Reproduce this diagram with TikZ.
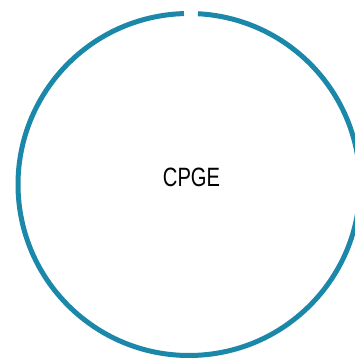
\documentclass[tikz,border=0pt]{standalone}
\usepackage{fontspec}
\setmainfont{Liberation Sans}
\definecolor{ringblue}{HTML}{1B88A9}
\begin{document}
\begin{tikzpicture}[x=1pt,y=1pt,
  ring/.style={draw=ringblue,line width=5pt},
  label/.style={font=\fontsize{26.5}{30}\selectfont,inner sep=0pt,anchor=base}]
\useasboundingbox (0,0) rectangle (355,359);
\clip (0,0) rectangle (355,359);
\coordinate (c) at (189,174.5);
\draw[ring] ([shift={(91.7:171)}]c) arc[start angle=91.7,end angle=447,radius=171];
\node[label] (t) at (191.5,172) {\scalebox{0.76}[1]{CPGE}};
\end{tikzpicture}
\end{document}
